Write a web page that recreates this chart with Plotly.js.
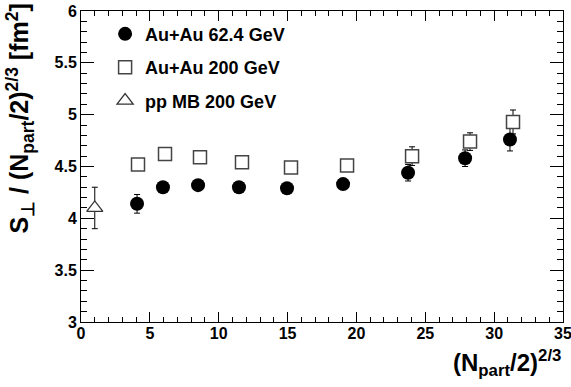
<!DOCTYPE html>
<html>
<head>
<meta charset="utf-8">
<script src="https://cdn.plot.ly/plotly-3.0.1.min.js"></script>
<style>html,body{margin:0;padding:0;background:#fff;}#chart{width:571px;height:387px;}</style>
</head>
<body>
<div id="chart"></div>
<script>
// Au+Au 62.4 GeV (filled circles)
var x62 = [4.07, 5.95, 8.5, 11.47, 14.96, 19.03, 23.75, 27.89, 31.15];
var y62 = [4.14, 4.30, 4.32, 4.30, 4.29, 4.33, 4.44, 4.58, 4.76];
var e62 = [0.09, 0.05, 0.05, 0.05, 0.05, 0.05, 0.08, 0.08, 0.11];
// Au+Au 200 GeV (open squares)
var x200 = [4.14, 6.1, 8.64, 11.69, 15.25, 19.32, 24.04, 28.25, 31.37];
var y200 = [4.52, 4.62, 4.59, 4.54, 4.49, 4.51, 4.60, 4.74, 4.93];
var e200 = [0.05, 0.05, 0.05, 0.05, 0.05, 0.05, 0.09, 0.085, 0.115];
// pp MB 200 GeV (open triangle)
var xpp = [1.0];
var ypp = [4.10];
var epp = [0.2];

var names = ['Au+Au 62.4 GeV', 'Au+Au 200 GeV', 'pp MB 200 GeV'];

var FONT = 'Liberation Sans, Arial, Helvetica, sans-serif';

var traces = [
  {x: x62, y: y62, type: 'scatter', mode: 'markers', name: names[0], legendgroup: 'a',
   marker: {symbol: 'circle', size: 14, color: '#000'},
   error_y: {type: 'data', array: e62, visible: true, color: '#000', thickness: 1, width: 3}},
  {x: x200, y: y200, type: 'scatter', mode: 'markers', name: names[1], legendgroup: 'b',
   marker: {symbol: 'square', size: 13, color: '#fff', line: {width: 1.5, color: '#444'}},
   error_y: {type: 'data', array: e200, visible: true, color: '#000', thickness: 1, width: 3}},
  {x: xpp, y: ypp, type: 'scatter', mode: 'markers', name: names[2], legendgroup: 'c',
   marker: {symbol: 'triangle-up', size: 14, color: '#fff', line: {width: 1.3, color: '#333'}},
   error_y: {type: 'data', array: epp, visible: true, color: '#000', thickness: 1, width: 3}}
];

var layout = {
  width: 571, height: 387,
  margin: {l: 81, r: 8, t: 11, b: 65},
  paper_bgcolor: '#fff', plot_bgcolor: '#fff',
  font: {family: FONT, color: '#000'},
  showlegend: true,
  legend: {x: 0.05, y: 0.985, xanchor: 'left', yanchor: 'top', bgcolor: 'rgba(0,0,0,0)',
           font: {size: 18, family: FONT, weight: 'bold', color: '#000'}, tracegroupgap: 7},
  xaxis: {range: [0, 35], dtick: 5, tick0: 0, ticks: 'inside', ticklen: 10, tickwidth: 1, tickcolor: '#000',
          showline: true, linecolor: '#000', linewidth: 1, mirror: 'ticks', showgrid: false, zeroline: false,
          ticklabeloverflow: 'allow', ticklabelstandoff: -3,
          tickfont: {size: 16, family: FONT, weight: 'bold'},
          minor: {dtick: 1, ticks: 'inside', ticklen: 5, tickcolor: '#000', showgrid: false}},
  yaxis: {range: [3, 6], dtick: 0.5, tick0: 3, ticks: 'inside', ticklen: 13, tickwidth: 1, tickcolor: '#000',
          showline: true, linecolor: '#000', linewidth: 1, mirror: 'ticks', showgrid: false, zeroline: false,
          ticklabeloverflow: 'allow',
          tickfont: {size: 16, family: FONT, weight: 'bold'},
          minor: {dtick: 0.1, ticks: 'inside', ticklen: 6, tickcolor: '#000', showgrid: false}},
  annotations: [
    {text: '(N<sub>part</sub>/2)<sup>2/3</sup>', xref: 'paper', yref: 'paper', x: 1.0, y: -0.07,
     xanchor: 'right', yanchor: 'top', showarrow: false, font: {size: 24, family: FONT, weight: 'bold'}},
    {text: 'S<sub>⊥</sub> / (N<sub>part</sub>/2)<sup>2/3</sup> [fm<sup>2</sup>]', xref: 'paper', yref: 'paper',
     x: -0.126, y: 0.655, xanchor: 'center', yanchor: 'middle', textangle: -90, showarrow: false,
     font: {size: 25, family: FONT, weight: 'bold'}}
  ]
};

Plotly.newPlot('chart', traces, layout, {displayModeBar: false, staticPlot: true});
</script>
</body>
</html>
